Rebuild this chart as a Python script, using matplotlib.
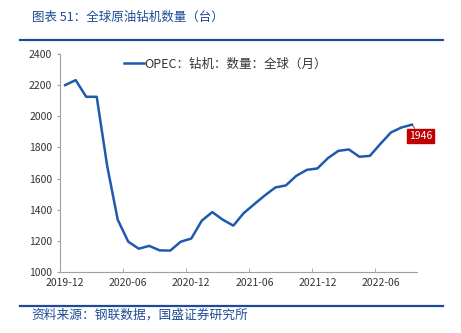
import matplotlib.pyplot as plt
from matplotlib.lines import Line2D

plt.rcParams['font.family'] = ['Noto Sans CJK SC', 'DejaVu Sans']

months = ['2019-12', '2020-01', '2020-02', '2020-03', '2020-04', '2020-05', '2020-06',
          '2020-07', '2020-08', '2020-09', '2020-10', '2020-11', '2020-12',
          '2021-01', '2021-02', '2021-03', '2021-04', '2021-05', '2021-06',
          '2021-07', '2021-08', '2021-09', '2021-10', '2021-11', '2021-12',
          '2022-01', '2022-02', '2022-03', '2022-04', '2022-05', '2022-06',
          '2022-07', '2022-08', '2022-09']
rigs = [2200, 2232, 2125, 2125, 1680, 1336, 1195, 1150, 1168, 1139, 1138, 1195, 1215,
        1330, 1385, 1336, 1298, 1379, 1436, 1492, 1543, 1556, 1618, 1656, 1665,
        1731, 1778, 1787, 1740, 1746, 1823, 1896, 1928, 1946]
series_name = 'OPEC：钻机：数量：全球（月）'
title = '图表 51：全球原油钻机数量（台）'
source = '资料来源：钢联数据，国盛证券研究所'

blue = '#1f5aad'
dark_blue = '#1f4b96'

fig = plt.figure(figsize=(4.61, 3.33), dpi=100)
ax = fig.add_axes([0.130, 0.183, 0.775, 0.655])

x = [i + 0.5 for i in range(len(rigs))]
ax.plot(x, rigs, color=blue, lw=1.8, label=series_name)

ax.set_xlim(0, len(rigs))
ax.set_ylim(1000, 2400)
ax.set_yticks(range(1000, 2401, 200))

label_idx = list(range(0, len(months), 6))
ax.set_xticks([i + 0.5 for i in label_idx])
ax.set_xticklabels([months[i] for i in label_idx])
ax.set_xticks(label_idx[1:], minor=True)
ax.tick_params(axis='x', which='major', length=0, pad=4, labelsize=7.5, colors='#333333')
ax.tick_params(axis='x', which='minor', length=3, direction='in', color='#a0a0a0')
ax.tick_params(axis='y', length=2, labelsize=7.5, colors='#333333', color='#a0a0a0')

for s in ['top', 'right']:
    ax.spines[s].set_visible(False)
for s in ['left', 'bottom']:
    ax.spines[s].set_color('#a0a0a0')
    ax.spines[s].set_linewidth(0.8)

ax.legend(loc='upper left', bbox_to_anchor=(0.148, 1.035), frameon=False, fontsize=9,
          handlelength=1.6, handletextpad=0.05, labelcolor='#333333')

# last value label
xl, yl = x[-1], rigs[-1]
ax.annotate(f'{yl}', xy=(xl, yl), xytext=(xl + 0.8, yl - 72), fontsize=7.5, color='white',
            ha='center', va='center',
            bbox=dict(boxstyle='square,pad=0.2', fc='#c00000', ec='#c00000'),
            arrowprops=dict(arrowstyle='-', color='#404040', lw=0.6, shrinkA=0, shrinkB=0))

fig.text(0.069, 0.948, title, fontsize=9, color=dark_blue, va='center', style='italic')
fig.text(0.069, 0.054, source, fontsize=9.2, color=dark_blue, va='center', style='italic')
fig.add_artist(Line2D([0.043, 0.961], [0.880, 0.880], color=dark_blue, lw=1.6))
fig.add_artist(Line2D([0.043, 0.961], [0.081, 0.081], color=dark_blue, lw=1.6))

fig.savefig('out.png', dpi=100)
